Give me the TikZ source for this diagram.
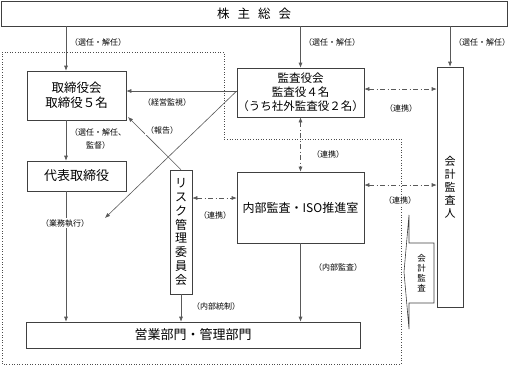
\documentclass[tikz,border=0pt]{standalone}
\usepackage{fontspec}
\setmainfont{Noto Sans CJK JP}
\usetikzlibrary{arrows.meta}
\tikzset{
  box/.style={draw=black!75, line width=0.6pt, inner sep=0pt, align=center, font=\fontsize{12.5}{15}\selectfont},
  conn/.style={draw=black!65, line width=0.6pt, -{Latex[length=5pt,width=4pt]}},
  link/.style={draw=black!65, line width=0.6pt, {Latex[length=5pt,width=4pt]}-{Latex[length=5pt,width=4pt]}, dash pattern=on 5pt off 2.5pt on 1pt off 2.5pt},
  lbl/.style={font=\fontsize{8}{12.5}\selectfont, fill=white, inner sep=0.8pt, align=center},
  region/.style={draw=black!70, line width=0.6pt, dotted},
  callout/.style={draw=black!75, line width=0.6pt}
}
\begin{document}
\begin{tikzpicture}[x=1pt,y=-1pt]
\useasboundingbox (0,0) rectangle (513,365);
\draw[region] (2,52) -- (224,52) -- (224,139) -- (401,139) -- (401,364) -- (2,364) -- cycle;

\node[box, minimum width=506pt, minimum height=25pt] (kabu) at (254,13.5) {株\hspace{8pt}主\hspace{8pt}総\hspace{8pt}会};
\node[box, minimum width=99pt, minimum height=49pt] (tori) at (76.5,95.5) {取締役会\\取締役５名};
\node[box, minimum width=127pt, minimum height=49pt, font=\fontsize{11.5}{14}\selectfont] (kansa) at (300.5,92.5) {監査役会\\監査役４名\\（うち社外監査役２名）};
\node[box, minimum width=26pt, minimum height=240pt, font=\fontsize{11}{13}\selectfont] (kaikei) at (450,187) {会\\計\\監\\査\\人};
\node[box, minimum width=99pt, minimum height=30pt, font=\fontsize{13}{15}\selectfont] (daihyo) at (76.5,176) {代表取締役};
\node[box, minimum width=22pt, minimum height=124pt, font=\fontsize{12}{13.75}\selectfont] (risk) at (181,232) {リ\\ス\\ク\\管\\理\\委\\員\\会};
\node[box, minimum width=127pt, minimum height=71pt, font=\fontsize{12}{15}\selectfont] (naibu) at (300.5,207.5) {内部監査・ISO推進室};
\node[box, minimum width=334pt, minimum height=26pt, font=\fontsize{13}{15}\selectfont] (eigyo) at (193,335) {営業部門・管理部門};

\draw[callout] (409,215) -- (409,243) -- (434,243) -- (434,303) -- (409,303) -- (409,329) -- (404,272) -- cycle;
\node[font=\fontsize{8.5}{10}\selectfont, align=center, inner sep=0pt] (kkansa) at (421.5,273) {会\\計\\監\\査};

\coordinate (xL) at (66,0);
\coordinate (diagEnd) at (105,218);
\coordinate (repEnd) at (128,117);
\coordinate (yA) at (0,89);
\coordinate (yB) at (0,198);
\coordinate (yC) at (0,185);

\draw[conn] (kabu.south -| xL) -- (tori.north -| xL);
\draw[conn] (kabu.south -| kansa) -- (kansa.north);
\draw[conn] (kabu.south -| kaikei) -- (kaikei.north);
\draw[conn] ([yshift=1.5pt]kansa.west) -- ([yshift=1.5pt]kansa.west -| tori.east);
\draw[conn] ([yshift=1.5pt]kansa.west) -- (diagEnd);
\draw[conn] (risk.north) -- (repEnd);
\draw[conn] (tori.south -| xL) -- (daihyo.north -| xL);
\draw[conn] (daihyo.south -| xL) -- (eigyo.north -| xL);
\draw[conn] (risk.south) -- (eigyo.north -| risk);
\draw[conn] (naibu.south) -- (eigyo.north -| naibu);
\draw[link] (kansa.south) -- (naibu.north);
\draw[link] (kansa.east |- yA) -- (kaikei.west |- yA);
\draw[link] (risk.east |- yB) -- (naibu.west |- yB);
\draw[link] (naibu.east |- yC) -- (kaikei.west |- yC);

\node[lbl, anchor=west] (l1) at (69,42) {（選任・解任）};
\node[lbl, anchor=west] (l2) at (303,42) {（選任・解任）};
\node[lbl, anchor=west] (l3) at (453,42) {（選任・解任）};
\node[lbl] (l4) at (167,102) {（経営監視）};
\node[lbl] (l5) at (162,130) {（報告）};
\node[lbl] (l6) at (98,139) {（選任・解任、\\監督）};
\node[lbl] (l7) at (65,223) {（業務執行）};
\node[lbl] (l8) at (401,108) {（連携）};
\node[lbl] (l9) at (328,154) {（連携）};
\node[lbl] (l10) at (215,215) {（連携）};
\node[lbl] (l11) at (400,200) {（連携）};
\node[lbl] (l12) at (338,267) {（内部監査）};
\node[lbl] (l13) at (216,306) {（内部統制）};
\end{tikzpicture}
\end{document}
